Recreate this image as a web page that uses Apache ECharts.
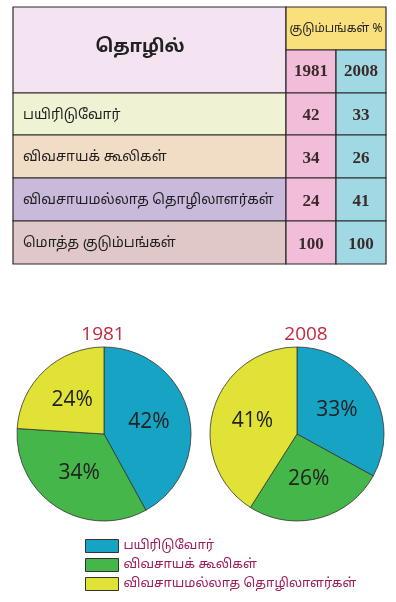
<!DOCTYPE html>
<html>
<head>
<meta charset="utf-8">
<title>households</title>
<script src="https://cdn.jsdelivr.net/npm/echarts@6/dist/echarts.min.js"></script>
<style>
  html, body { margin: 0; padding: 0; background: #fff; }
  #main { width: 396px; height: 602px; }
</style>
</head>
<body>
<div id="main"></div>
<script>
// data
var headerLabel = 'தொழில்';
var groupHeader = 'குடும்பங்கள் %';
var years = ['1981', '2008'];
var occupations = ['பயிரிடுவோர்', 'விவசாயக் கூலிகள்', 'விவசாயமல்லாத தொழிலாளர்கள்'];
var totalLabel = 'மொத்த குடும்பங்கள்';
var share1981 = [42, 34, 24];
var share2008 = [33, 26, 41];
var totals = [100, 100];

var sliceColors = ['#17a3c3', '#45b649', '#e0e236'];
var rowColors = ['#eff3d4', '#f1dcc5', '#c9b9db', '#dfc8c7'];
var yearColors = ['#f2bdd9', '#a0d9e4'];

// table layout
var colX = [13, 286, 336, 386];
var rowY = [7, 50, 93, 135, 178, 221, 264];
var tamil = '"Noto Sans Tamil", "Latha", "Lohit Tamil", "Noto Sans", sans-serif';

var g = [];
function cell(x0, y0, x1, y1, fill) {
  g.push({ type: 'rect', shape: { x: x0, y: y0, width: x1 - x0, height: y1 - y0 },
    style: { fill: fill, stroke: '#2b2b2b', lineWidth: 1.2 } });
}
function txt(x, y, s, size, align, font, weight, color) {
  g.push({ type: 'text', x: x, y: y, style: { text: s, fontSize: size, fontFamily: font,
    fontWeight: weight || 'normal', fill: color || '#222', align: align, verticalAlign: 'middle' } });
}

cell(colX[0], rowY[0], colX[1], rowY[2], '#f4e3f0');
txt(140, 48, headerLabel, 18, 'center', tamil, 'bold');
cell(colX[1], rowY[0], colX[3], rowY[1], '#f9e07d');
txt(336, 30, groupHeader, 12, 'center', tamil);
years.forEach(function (y, j) {
  cell(colX[j + 1], rowY[1], colX[j + 2], rowY[2], yearColors[j]);
  txt((colX[j + 1] + colX[j + 2]) / 2, 72, y, 17, 'center', '"Liberation Serif", serif', 'bold', '#3a2a2a');
});

var rows = occupations.map(function (o, i) { return [o, share1981[i], share2008[i]]; });
rows.push([totalLabel, totals[0], totals[1]]);
rows.forEach(function (r, i) {
  var y0 = rowY[i + 2], y1 = rowY[i + 3], yc = (y0 + y1) / 2;
  cell(colX[0], y0, colX[1], y1, rowColors[i]);
  txt(23, yc + 2, r[0], 14, 'left', tamil, 'normal', '#1e1e1e');
  for (var j = 0; j < 2; j++) {
    cell(colX[j + 1], y0, colX[j + 2], y1, yearColors[j]);
    txt((colX[j + 1] + colX[j + 2]) / 2, yc + 2, String(r[j + 1]), 17, 'center', '"Liberation Serif", serif', 'bold', '#3a2a2a');
  }
});

function pieData(vals) {
  return occupations.map(function (o, i) {
    return { name: o, value: vals[i], itemStyle: { color: sliceColors[i] } };
  });
}

var pieCommon = {
  type: 'pie',
  radius: 87,
  startAngle: 90,
  clockwise: true,
  avoidLabelOverlap: false,
  label: { position: 'inner', formatter: '{c}%', fontSize: 21, color: '#222', fontFamily: '"Open Sans", sans-serif' },
  labelLine: { show: false },
  itemStyle: { borderColor: '#333', borderWidth: 0.8 },
  emphasis: { disabled: true },
  animation: false
};

var chart = echarts.init(document.getElementById('main'), null, { renderer: 'canvas' });
chart.setOption({
  backgroundColor: '#fff',
  animation: false,
  title: [
    { text: years[0], left: 98, top: 320, textAlign: 'center',
      textStyle: { color: '#c3293f', fontSize: 19, fontWeight: 'normal', fontFamily: '"Open Sans", sans-serif' } },
    { text: years[1], left: 301, top: 320, textAlign: 'center',
      textStyle: { color: '#c3293f', fontSize: 19, fontWeight: 'normal', fontFamily: '"Open Sans", sans-serif' } }
  ],
  legend: {
    orient: 'vertical',
    left: 80,
    top: 534,
    itemWidth: 33,
    itemHeight: 13,
    itemGap: 5,
    icon: 'rect',
    selectedMode: false,
    data: occupations,
    itemStyle: { borderColor: '#333', borderWidth: 1 },
    textStyle: { color: '#9c1c5c', fontSize: 13, fontFamily: tamil }
  },
  series: [
    Object.assign({}, pieCommon, { name: years[0], center: [104, 434], data: pieData(share1981) }),
    Object.assign({}, pieCommon, { name: years[1], center: [297, 434], data: pieData(share2008) })
  ],
  graphic: g
});
</script>
</body>
</html>
